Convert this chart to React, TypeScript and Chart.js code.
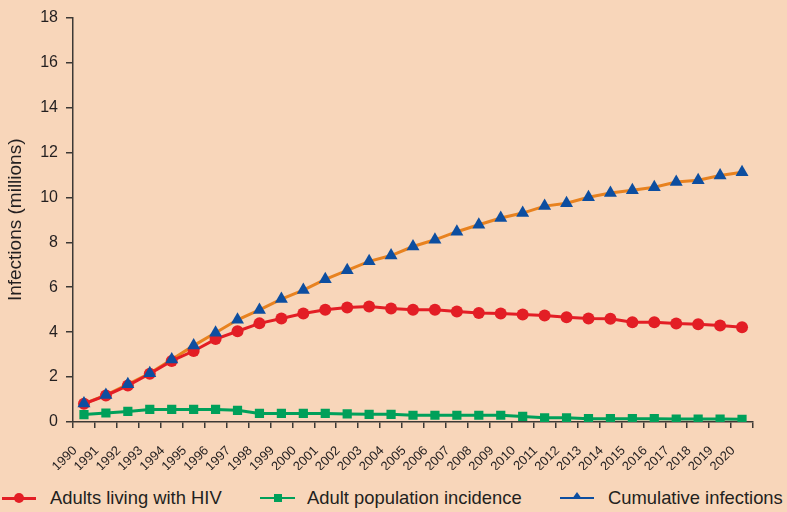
import { useEffect, useRef } from 'react';
import { Chart, registerables } from 'chart.js';

Chart.register(...registerables);

const years = [
  '1990', '1991', '1992', '1993', '1994', '1995', '1996', '1997', '1998', '1999',
  '2000', '2001', '2002', '2003', '2004', '2005', '2006', '2007', '2008', '2009',
  '2010', '2011', '2012', '2013', '2014', '2015', '2016', '2017', '2018', '2019', '2020',
];

const adultsLivingWithHIV = [
  0.81, 1.18, 1.62, 2.15, 2.72, 3.16, 3.69, 4.04, 4.39, 4.61,
  4.83, 5.0, 5.1, 5.14, 5.05, 5.0, 5.0, 4.92, 4.85, 4.83,
  4.79, 4.74, 4.66, 4.61, 4.6, 4.44, 4.44, 4.38, 4.35, 4.3, 4.22,
];

const adultPopulationIncidence = [
  0.33, 0.4, 0.47, 0.56, 0.56, 0.56, 0.56, 0.52, 0.38, 0.38,
  0.38, 0.38, 0.36, 0.34, 0.34, 0.3, 0.3, 0.3, 0.3, 0.3,
  0.25, 0.19, 0.19, 0.15, 0.15, 0.15, 0.15, 0.13, 0.13, 0.13, 0.12,
];

const cumulativeInfections = [
  0.82, 1.2, 1.68, 2.17, 2.78, 3.4, 3.97, 4.55, 4.99, 5.47,
  5.87, 6.35, 6.75, 7.15, 7.41, 7.81, 8.11, 8.47, 8.78, 9.08,
  9.3, 9.61, 9.74, 10.0, 10.19, 10.32, 10.45, 10.68, 10.76, 10.97, 11.12,
];

const legendLabels = ['Adults living with HIV', 'Adult population incidence', 'Cumulative infections'];

const BG = '#f8d6ba';
const RED = '#e31e25';
const GREEN = '#00a05a';
const BLUE = '#0d4ea0';
const ORANGE = '#e8821f';
const AXIS = '#3d3935';
const TEXT = '#231f20';
const FONT = '"Liberation Sans", Arial, Helvetica, sans-serif';

function LegendItem(props: { left: number; symbolWidth: number; gap: number; color: string; marker: 'circle' | 'square' | 'triangle'; label: string; lineHeight: number }) {
  const { left, symbolWidth, gap, color, marker, label, lineHeight } = props;
  let markerEl: any = null;
  if (marker === 'circle') {
    markerEl = <div style={{ position: 'absolute', left: symbolWidth / 2 - 5, top: 9, width: 10, height: 10, borderRadius: '50%', background: color }} />;
  } else if (marker === 'square') {
    markerEl = <div style={{ position: 'absolute', left: symbolWidth / 2 - 4, top: 10, width: 8, height: 8, background: color }} />;
  } else {
    markerEl = <div style={{ position: 'absolute', left: symbolWidth / 2 - 5, top: 8, width: 0, height: 0, borderLeft: '5px solid transparent', borderRight: '5px solid transparent', borderBottom: '7px solid ' + color }} />;
  }
  return (
    <div style={{ position: 'absolute', left, top: 484, height: 28, display: 'flex', alignItems: 'center' }}>
      <div style={{ position: 'relative', width: symbolWidth, height: 28 }}>
        <div style={{ position: 'absolute', left: 0, right: 0, top: 14 - lineHeight / 2, height: lineHeight, background: color }} />
        {markerEl}
      </div>
      <span style={{ marginLeft: gap, font: '18.4px ' + FONT, color: TEXT, whiteSpace: 'nowrap' }}>{label}</span>
    </div>
  );
}

export default function App() {
  const ref = useRef<HTMLCanvasElement>(null);

  useEffect(() => {
    if (!ref.current) return;
    Chart.defaults.font.family = FONT;
    const chart = new Chart(ref.current, {
      type: 'line',
      data: {
        labels: years,
        datasets: [
          {
            label: 'Cumulative infections markers',
            data: cumulativeInfections,
            showLine: false,
            pointStyle: 'triangle',
            pointRadius: 7.5,
            pointBackgroundColor: BLUE,
            pointBorderColor: BLUE,
            pointBorderWidth: 0,
            borderColor: BLUE,
          },
          {
            label: legendLabels[0],
            data: adultsLivingWithHIV,
            borderColor: RED,
            borderWidth: 3,
            pointStyle: 'circle',
            pointRadius: 6,
            pointBackgroundColor: RED,
            pointBorderColor: RED,
            pointBorderWidth: 0,
            tension: 0,
          },
          {
            label: legendLabels[1],
            data: adultPopulationIncidence,
            borderColor: GREEN,
            borderWidth: 3,
            pointStyle: 'rect',
            pointRadius: 6.5,
            pointBackgroundColor: GREEN,
            pointBorderColor: GREEN,
            pointBorderWidth: 0,
            tension: 0,
          },
          {
            label: legendLabels[2],
            data: cumulativeInfections,
            borderColor: ORANGE,
            borderWidth: 3,
            pointRadius: 0,
            tension: 0,
          },
        ],
      },
      options: {
        responsive: true,
        maintainAspectRatio: false,
        animation: false,
        events: [],
        layout: { padding: { left: 0, right: 34, top: 12, bottom: 0 } },
        plugins: {
          legend: { display: false },
          tooltip: { enabled: false },
        },
        scales: {
          x: {
            type: 'category',
            offset: true,
            grid: { offset: true, drawOnChartArea: false, drawTicks: true, tickLength: 6, color: AXIS, lineWidth: 1.5 },
            border: { display: true, color: AXIS, width: 1.5 },
            ticks: {
              autoSkip: false,
              maxRotation: 45,
              minRotation: 45,
              labelOffset: -9,
              padding: 15,
              color: TEXT,
              font: { family: FONT, size: 13 },
            },
            afterFit: (s: any) => { s.height = 48; },
          },
          y: {
            min: 0,
            max: 18,
            ticks: { stepSize: 2, padding: 8, color: TEXT, font: { family: FONT, size: 16 } },
            grid: { drawOnChartArea: false, drawTicks: true, tickLength: 7, color: AXIS, lineWidth: 1.5 },
            border: { display: true, color: AXIS, width: 1.5 },
            title: {
              display: true,
              text: 'Infections (millions)',
              color: TEXT,
              font: { family: FONT, size: 19 },
              padding: { top: 4, bottom: 0 },
            },
            afterFit: (s: any) => { s.width = 73; },
          },
        },
      },
    });
    return () => chart.destroy();
  }, []);

  return (
    <div style={{ position: 'fixed', left: 0, top: 0, width: 787, height: 512, background: BG, overflow: 'hidden' }}>
      <div style={{ position: 'absolute', left: 0, top: 0, width: 787, height: 470 }}>
        <canvas ref={ref} />
      </div>
      <LegendItem left={2} symbolWidth={34} gap={14} color={RED} marker="circle" label={legendLabels[0]} lineHeight={3} />
      <LegendItem left={260} symbolWidth={35} gap={12} color={GREEN} marker="square" label={legendLabels[1]} lineHeight={2.5} />
      <LegendItem left={560} symbolWidth={34} gap={14} color={BLUE} marker="triangle" label={legendLabels[2]} lineHeight={2.5} />
    </div>
  );
}
